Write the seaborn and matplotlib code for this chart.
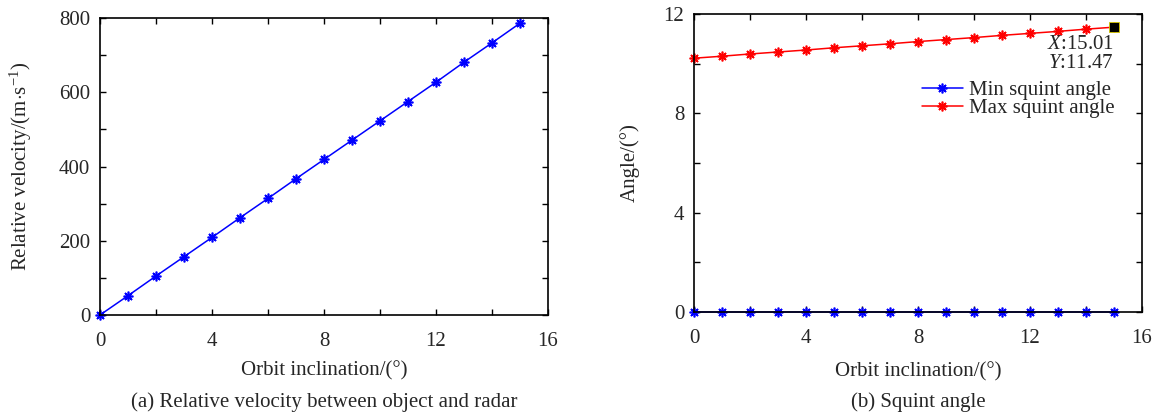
import matplotlib
matplotlib.use("Agg")
import matplotlib.pyplot as plt
from matplotlib.ticker import MultipleLocator
import seaborn as sns
import numpy as np

# ---------------------------------------------------------------------------
# Data
# ---------------------------------------------------------------------------
inclination = [0, 1, 2, 3, 4, 5, 6, 7, 8, 9, 10, 11, 12, 13, 14, 15]
rel_velocity = [0, 52, 105, 157, 209, 262, 314, 367, 419, 471,
                523, 575, 627, 681, 733, 786]
min_squint = [0.0] * 16
max_squint = [10.22, 10.30, 10.39, 10.47, 10.55, 10.64, 10.72, 10.80,
              10.89, 10.97, 11.05, 11.14, 11.22, 11.30, 11.39, 11.47]
tip_x, tip_y = 15, 11.47
tip_text = r"$\mathit{X}$:15.01" + "\n" + r"$\mathit{Y}$:11.47"

captions = ["(a) Relative velocity between object and radar", "(b) Squint angle"]

# ---------------------------------------------------------------------------
# Style
# ---------------------------------------------------------------------------
sns.set_theme(style="ticks")
plt.rcParams["font.family"] = ["Liberation Serif", "DejaVu Serif"]
plt.rcParams["mathtext.fontset"] = "custom"
plt.rcParams["mathtext.rm"] = "Liberation Serif"
plt.rcParams["mathtext.it"] = "Liberation Serif:italic"
FS = 15
STAR = (8, 2, 0)

W, H = 1154, 417
fig = plt.figure(figsize=(W / 100, H / 100), dpi=100)
ax1 = fig.add_axes([100 / W, 1 - 315 / H, 448 / W, 297 / H])
ax2 = fig.add_axes([694 / W, 1 - 312 / H, 448 / W, 298 / H])


def style_axes(ax, ymajor, yminor):
    ax.set_xlim(0, 16)
    ax.xaxis.set_major_locator(MultipleLocator(4))
    ax.xaxis.set_minor_locator(MultipleLocator(2))
    ax.yaxis.set_major_locator(MultipleLocator(ymajor))
    ax.yaxis.set_minor_locator(MultipleLocator(yminor))
    ax.tick_params(which="both", direction="in", top=True, right=True,
                   length=4, width=1, color="black")
    ax.tick_params(axis="x", labelsize=FS, pad=12)
    ax.tick_params(axis="y", labelsize=FS, pad=7)
    for sp in ax.spines.values():
        sp.set_visible(True)
        sp.set_linewidth(1.2)
        sp.set_color("black")


# Figure (a)
sns.lineplot(x=inclination, y=rel_velocity, ax=ax1, color="blue", lw=1.1,
             marker=STAR, markersize=7, markeredgewidth=1.2,
             markeredgecolor="blue", clip_on=False)
ax1.set_ylim(0, 800)
style_axes(ax1, 200, 100)
ax1.set_xlabel("Orbit inclination/(°)", fontsize=FS)
ax1.set_ylabel(r"Relative velocity/(m$\cdot$s$^{-1}$)", fontsize=FS)
ax1.xaxis.set_label_coords(0.5, -0.155)
ax1.yaxis.set_label_coords(-0.147, 0.5)

# Figure (b)
sns.lineplot(x=inclination, y=min_squint, ax=ax2, color="blue", lw=1.1,
             marker=STAR, markersize=7, markeredgewidth=1.2,
             markeredgecolor="blue", clip_on=False, label="Min squint angle")
sns.lineplot(x=inclination, y=max_squint, ax=ax2, color="red", lw=1.1,
             marker=STAR, markersize=7, markeredgewidth=1.2,
             markeredgecolor="red", clip_on=False, label="Max squint angle")
ax2.set_ylim(0, 12)
style_axes(ax2, 4, 2)
ax2.set_xlabel("Orbit inclination/(°)", fontsize=FS)
ax2.set_ylabel("Angle/(°)", fontsize=FS)
ax2.xaxis.set_label_coords(0.5, -0.168)
ax2.yaxis.set_label_coords(-0.121, 0.5)

# data tip
ax2.plot([tip_x], [tip_y], marker="s", color="black", markersize=7,
         markeredgecolor="#d8c800", markeredgewidth=0.6, clip_on=False)
ax2.annotate(tip_text, xy=(tip_x, tip_y), xytext=(0, -6),
             textcoords="offset points", ha="right", va="top",
             fontsize=FS, linespacing=0.95)

ax2.legend(loc="upper right", bbox_to_anchor=(0.94, 0.776), frameon=False,
           fontsize=FS, handlelength=2.0, handletextpad=0.3,
           labelspacing=-0.1, borderpad=0, borderaxespad=0)

fig.text((100 + 548) / 2 / W, 1 - 402 / H, captions[0], ha="center",
         va="center", fontsize=FS)
fig.text((694 + 1142) / 2 / W, 1 - 402 / H, captions[1], ha="center",
         va="center", fontsize=FS)

fig.savefig("out.png", dpi=100)
